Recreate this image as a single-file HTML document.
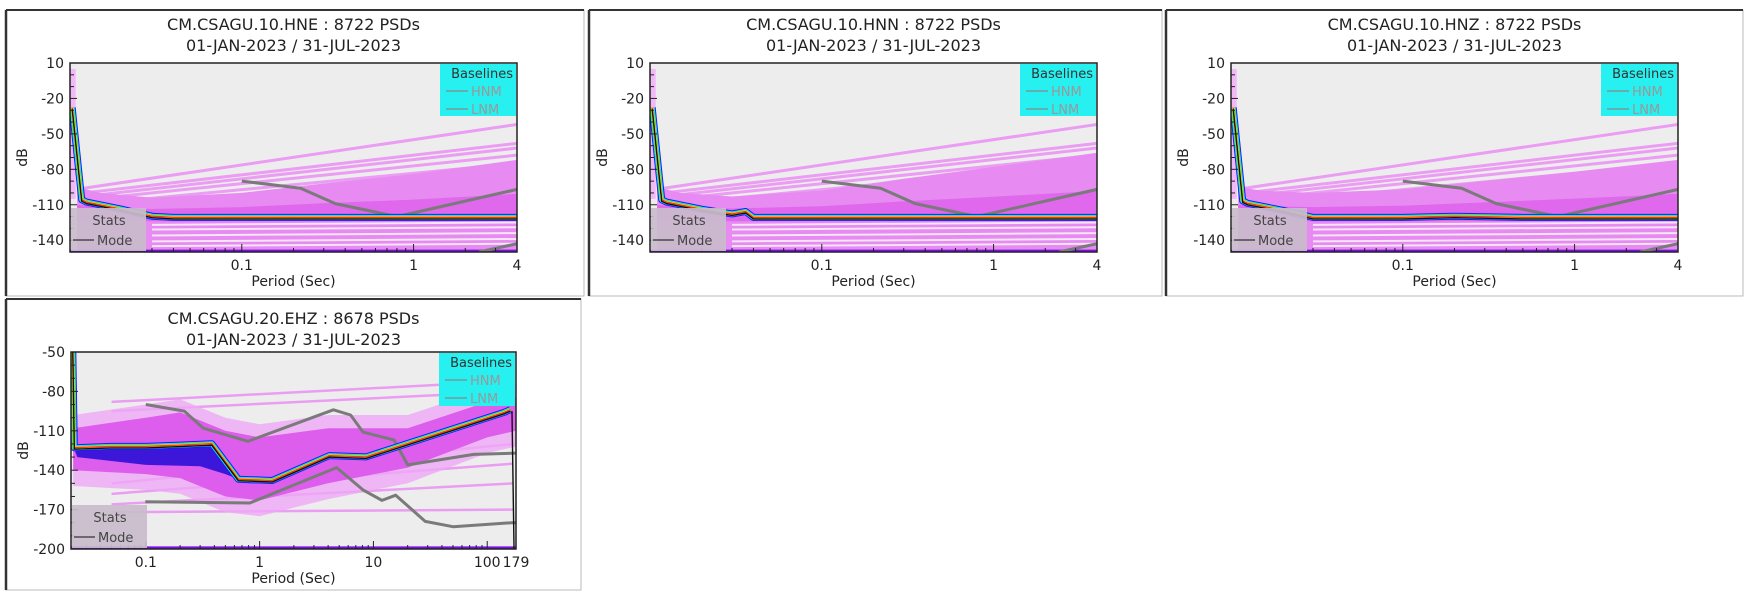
<!DOCTYPE html>
<html><head><meta charset="utf-8"><style>
html,body{margin:0;padding:0;background:#fff;width:1752px;height:602px;overflow:hidden}
svg{display:block;font-family:"DejaVu Sans","Liberation Sans",sans-serif}
</style></head><body>
<svg id="root" width="1752" height="602" viewBox="0 0 1752 602"></svg>
<script>
// ---------- data ----------
const topPeriodTicks=[0.1,1,4];
const topPeriodTickLabels=["0.1","1","4"];
const topDbTicks=[10,-20,-50,-80,-110,-140];
const ehzPeriodTicks=[0.1,1,10,100,179];
const ehzPeriodTickLabels=["0.1","1","10","100","179"];
const ehzDbTicks=[-50,-80,-110,-140,-170,-200];

const hneModePeriods=[0.0103,0.0117,0.0125,0.02,0.03,0.04,0.1,1,4];
const hneModeDb=[-29,-107,-109,-115,-121,-122,-122,-122,-122];
const hnnModePeriods=[0.0103,0.0117,0.0125,0.02,0.03,0.036,0.04,0.1,1,4];
const hnnModeDb=[-29,-107,-109,-115,-119,-117,-122,-122,-122,-122];
const hnzModePeriods=[0.0103,0.0117,0.0125,0.02,0.03,0.1,0.2,0.5,1,4];
const hnzModeDb=[-29,-108,-110,-116,-122,-122,-121,-122,-122,-122];

const topHnmPeriods=[0.1,0.22,0.35,0.8,4];
const topHnmDb=[-90,-96,-109,-120,-97];
const topLnmPeriods=[2.4,4];
const topLnmDb=[-150,-143];

const cloudPeriods=[0.011,0.015,0.03,0.1,0.3,1,4];
const hneCloudTop=[-95,-100,-104,-100,-92,-84,-72];
const hnnCloudTop=[-95,-100,-103,-98,-88,-78,-66];
const hnzCloudTop=[-95,-98,-100,-97,-90,-82,-72];
const streakStartDb=[-96,-100,-103,-106,-110];
const streakEndDb=[-42,-58,-62,-68,-75];
const whiteStreakDb=[-127,-131,-136,-141,-145];

const ehzModePeriods=[0.0228,0.0235,0.05,0.1,0.2,0.38,0.65,1.29,4.1,8.6,142,160];
const ehzModeDb=[-50,-124,-123,-123,-122,-121,-148,-149,-130,-131,-97,-95];
const ehzHnmPeriods=[0.1,0.218,0.32,0.79,4.45,6.3,8.1,15.2,20,76,179];
const ehzHnmDb=[-90,-95,-108,-118,-94,-98,-111,-117,-136,-128,-127];
const ehzLnmPeriods=[0.099,0.82,4.75,8.1,11.9,15.7,28.5,50,165,179];
const ehzLnmDb=[-164,-165,-138,-155,-163,-159,-179,-183,-180,-180];
const ehzCloudPeriods=[0.023,0.1,0.2,0.5,1,4,20,100,179];
const ehzCloudTop=[-108,-100,-96,-110,-115,-108,-108,-88,-84];
const ehzCloudBottom=[-140,-143,-146,-160,-163,-150,-138,-115,-110];
const ehzStreakStart=[-88,-95,-150,-158,-166,-172];
const ehzStreakEnd=[-72,-80,-120,-135,-150,-170];
const ehzBluePeriods=[0.025,0.1,0.3,0.5,0.8,1.2];
const ehzBlueBottom=[-130,-136,-137,-143,-150,-150];

// ---------- drawing ----------
const NS="http://www.w3.org/2000/svg";
const root=document.getElementById("root");
function el(tag,attrs,parent){const e=document.createElementNS(NS,tag);for(const k in attrs)e.setAttribute(k,attrs[k]);(parent||root).appendChild(e);return e;}

function makeScales(p){
  const lx0=Math.log10(p.pmin),lx1=Math.log10(p.pmax);
  p.X=v=>p.x0+(Math.log10(v)-lx0)/(lx1-lx0)*(p.x1-p.x0);
  p.Y=v=>p.y0+(p.dbmax-v)/(p.dbmax-p.dbmin)*(p.y1-p.y0);
}
function pts(p,per,db){return per.map((v,i)=>p.X(v).toFixed(1)+","+p.Y(db[i]).toFixed(1)).join(" ");}

function frame(p){
  const f=el("rect",{x:p.fx0,y:p.fy0,width:p.fx1-p.fx0,height:p.fy1-p.fy0,fill:"#fff",stroke:"#bbb","stroke-width":1});
  
  
  el("line",{x1:p.fx0,y1:p.fy0,x2:p.fx1,y2:p.fy0,stroke:"#333","stroke-width":2});
  el("line",{x1:p.fx0,y1:p.fy0,x2:p.fx0,y2:p.fy1,stroke:"#333","stroke-width":2.5});
  const cx=(p.x0+p.x1)/2;
  const t1=el("text",{x:cx,y:p.ty,"text-anchor":"middle","font-size":16,fill:"#222"});
  t1.textContent=p.title;
  
  
  const t2=el("text",{x:cx,y:p.ty+21,"text-anchor":"middle","font-size":16,fill:"#222"});
  t2.textContent="01-JAN-2023 / 31-JUL-2023";
  
  
  const xl=el("text",{x:cx,y:p.y1+34,"text-anchor":"middle","font-size":14,fill:"#222"});
  xl.textContent="Period (Sec)";
  
  
  const yx=p.x0-43,yy=(p.y0+p.y1)/2;
  const yl=el("text",{x:yx,y:yy,"text-anchor":"middle","font-size":14,fill:"#222",transform:`rotate(-90 ${yx} ${yy})`});
  yl.textContent="dB";
  
  
}

function plot(p){
  const g=el("g",{});
  
  
  const cid="clip-"+p.id;
  const cp=el("clipPath",{id:cid},g);
  el("rect",{x:p.x0,y:p.y0,width:p.x1-p.x0,height:p.y1-p.y0},cp);
  const inner=el("g",{"clip-path":`url(#${cid})`},g);
  el("rect",{x:p.x0,y:p.y0,width:p.x1-p.x0,height:p.y1-p.y0,fill:"#ededed"},inner);
  p.draw(inner);
  el("rect",{x:p.x0,y:p.y0,width:p.x1-p.x0,height:p.y1-p.y0,fill:"none",stroke:"#222","stroke-width":1.5},g);
  for(let d=p.dbmin;d<=p.dbmax;d+=10){
    const y=p.Y(d);const major=p.yTicks.includes(d);
    el("line",{x1:p.x0,y1:y,x2:p.x0+(major?7:4),y2:y,stroke:"#222","stroke-width":1},g);
  }
  p.yTicks.forEach(d=>{
    const t=el("text",{x:p.x0-6,y:p.Y(d)+5,"text-anchor":"end","font-size":14,fill:"#222"},g);
    t.textContent=String(d);
    
    
  });
  const dmin=Math.floor(Math.log10(p.pmin)),dmax=Math.ceil(Math.log10(p.pmax));
  for(let e=dmin;e<=dmax;e++)for(let m=1;m<10;m++){
    const v=m*Math.pow(10,e);if(v<p.pmin||v>p.pmax)continue;
    const x=p.X(v);
    el("line",{x1:x,y1:p.y1,x2:x,y2:p.y1-(m===1?8:4),stroke:"#222","stroke-width":1},g);
  }
  p.xTicks.forEach((v,i)=>{
    const t=el("text",{x:p.X(v),y:p.y1+18,"text-anchor":"middle","font-size":14,fill:"#222"},g);
    t.textContent=p.xLabels[i];
    
    
  });
  const lg=el("g",{},g);
  
  
  const lw=77,lh=p.legH;
  el("rect",{x:p.x1-lw,y:p.y0+1,width:lw-1,height:lh,fill:"#26f0f0"},lg);
  const lt=el("text",{x:p.x1-4,y:p.y0+15,"text-anchor":"end","font-size":13,fill:"#333"},lg);lt.textContent="Baselines";
  [["HNM",32],["LNM",50]].forEach(([n,dy])=>{
    el("line",{x1:p.x1-lw+6,y1:p.y0+dy-4,x2:p.x1-lw+28,y2:p.y0+dy-4,stroke:"#888","stroke-width":1.2},lg);
    const tt=el("text",{x:p.x1-lw+31,y:p.y0+dy+1,"font-size":13,fill:"#999"},lg);tt.textContent=n;
  });
  const sg=el("g",{},g);
  
  
  el("rect",{x:p.x0+1,y:p.y1-44,width:75,height:43,fill:"#c9bccc",opacity:0.92},sg);
  const st=el("text",{x:p.x0+39,y:p.y1-27,"text-anchor":"middle","font-size":13,fill:"#444"},sg);st.textContent="Stats";
  el("line",{x1:p.x0+3,y1:p.y1-12,x2:p.x0+24,y2:p.y1-12,stroke:"#333","stroke-width":1.3},sg);
  const mt=el("text",{x:p.x0+27,y:p.y1-7,"font-size":13,fill:"#444"},sg);mt.textContent="Mode";
}

function modeLines(p,g,per,db,name){
  const s=pts(p,per,db);
  [["#1a1aff",7],["#22e8f0",5],["#30e030",3.5],["#ffe000",2.5],["#ff3030",1.3]].forEach(([c,w])=>{
    const l=el("polyline",{points:s,fill:"none",stroke:c,"stroke-width":w,"stroke-linejoin":"round",transform:"translate(0,-1.5)"},g);
    
    
  });
  const m=el("polyline",{points:s,fill:"none",stroke:"#111","stroke-width":1.4},g);
  
  
}
function baseline(p,g,per,db,name){
  const l=el("polyline",{points:pts(p,per,db),fill:"none",stroke:"#7a7a7a","stroke-width":3,"stroke-linejoin":"round"},g);
  
  
}

function topDraw(id,cloudTop,modeP,modeD){
  return function(g){
    const p=this;
    el("rect",{x:p.X(0.01),y:p.Y(5),width:p.X(0.0108)-p.X(0.01),height:p.Y(-105)-p.Y(5),fill:"#f3b8f8"},g);
    streakStartDb.forEach((s,i)=>{
      const l=el("line",{x1:p.X(0.012),y1:p.Y(s),x2:p.X(4),y2:p.Y(streakEndDb[i]),stroke:"#ea8af4","stroke-width":3,opacity:0.8},g);
      
      
    });
    const poly=pts(p,cloudPeriods,cloudTop)+` ${p.X(4)},${p.Y(-150)} ${p.X(0.011)},${p.Y(-150)}`;
    const c=el("polygon",{points:poly,fill:"#e78af2"},g);
    
    
    const dense=pts(p,cloudPeriods,cloudTop.map(v=>v*0.4+(-120)*0.6))+` ${p.X(4)},${p.Y(-124)} ${p.X(0.011)},${p.Y(-124)}`;
    el("polygon",{points:dense,fill:"#dc5ceb",opacity:0.75},g);
    whiteStreakDb.forEach(d=>{
      el("line",{x1:p.X(0.03),y1:p.Y(d),x2:p.X(4),y2:p.Y(d+2),stroke:"#f6f0f6","stroke-width":2,opacity:0.9},g);
    });
    el("rect",{x:p.x0,y:p.Y(-148),width:p.x1-p.x0,height:p.Y(-150)-p.Y(-148)+2,fill:"#7a10e8"},g);
    baseline(p,g,topHnmPeriods,topHnmDb,id+'-hnm-line');
    baseline(p,g,topLnmPeriods,topLnmDb,id+'-lnm-line');
    modeLines(p,g,modeP,modeD,id);
  };
}

const panels=[
 {id:"hne",title:"CM.CSAGU.10.HNE : 8722 PSDs",x0:70,x1:517,y0:63,y1:252,fx0:6,fx1:584,fy0:10,fy1:296,ty:30,pmin:0.01,pmax:4,dbmin:-150,dbmax:10,xTicks:topPeriodTicks,xLabels:topPeriodTickLabels,yTicks:topDbTicks,legH:52,draw:topDraw("hne",hneCloudTop,hneModePeriods,hneModeDb)},
 {id:"hnn",title:"CM.CSAGU.10.HNN : 8722 PSDs",x0:650,x1:1097,y0:63,y1:252,fx0:589,fx1:1162,fy0:10,fy1:296,ty:30,pmin:0.01,pmax:4,dbmin:-150,dbmax:10,xTicks:topPeriodTicks,xLabels:topPeriodTickLabels,yTicks:topDbTicks,legH:52,draw:topDraw("hnn",hnnCloudTop,hnnModePeriods,hnnModeDb)},
 {id:"hnz",title:"CM.CSAGU.10.HNZ : 8722 PSDs",x0:1231,x1:1678,y0:63,y1:252,fx0:1166,fx1:1743,fy0:10,fy1:296,ty:30,pmin:0.01,pmax:4,dbmin:-150,dbmax:10,xTicks:topPeriodTicks,xLabels:topPeriodTickLabels,yTicks:topDbTicks,legH:52,draw:topDraw("hnz",hnzCloudTop,hnzModePeriods,hnzModeDb)},
 {id:"ehz",title:"CM.CSAGU.20.EHZ : 8678 PSDs",x0:71,x1:516,y0:352,y1:549,fx0:6,fx1:581,fy0:299,fy1:590,ty:324,pmin:0.022,pmax:179,dbmin:-200,dbmax:-50,xTicks:ehzPeriodTicks,xLabels:ehzPeriodTickLabels,yTicks:ehzDbTicks,legH:53,
  draw:function(g){
    const p=this;
    el("rect",{x:p.X(0.022),y:p.Y(-50),width:p.X(0.0232)-p.X(0.022),height:p.Y(-125)-p.Y(-50),fill:"#f3b8f8"},g);
    ehzStreakStart.forEach((s,i)=>{
      el("line",{x1:p.X(0.05),y1:p.Y(s),x2:p.X(170),y2:p.Y(ehzStreakEnd[i]),stroke:"#ea8af4","stroke-width":2.5,opacity:0.8},g);
    });
    const wide=pts(p,ehzCloudPeriods,ehzCloudTop.map(v=>v+10))+" "+pts(p,ehzCloudPeriods.slice().reverse(),ehzCloudBottom.map(v=>v-12).reverse());
    el("polygon",{points:wide,fill:"#efa8f6",opacity:0.8},g);
    const poly=pts(p,ehzCloudPeriods,ehzCloudTop)+" "+pts(p,ehzCloudPeriods.slice().reverse(),ehzCloudBottom.slice().reverse());
    const c=el("polygon",{points:poly,fill:"#dd5eec"},g);
    
    
    const blue=pts(p,ehzModePeriods.slice(1,7),ehzModeDb.slice(1,7))+" "+pts(p,ehzBluePeriods.slice().reverse(),ehzBlueBottom.slice().reverse());
    const b=el("polygon",{points:blue,fill:"#2a10d8",opacity:0.9},g);
    
    
    el("rect",{x:p.x0,y:p.Y(-198),width:p.x1-p.x0,height:6,fill:"#7a10e8"},g);
    baseline(p,g,ehzHnmPeriods,ehzHnmDb,'ehz-hnm-line');
    baseline(p,g,ehzLnmPeriods,ehzLnmDb,'ehz-lnm-line');
    modeLines(p,g,ehzModePeriods,ehzModeDb,'ehz');
    el("line",{x1:p.X(165),y1:p.Y(-95),x2:p.X(172),y2:p.Y(-200),stroke:"#111","stroke-width":1.4},g);
  }}
];
panels.forEach(p=>{makeScales(p);frame(p);});
panels.forEach(p=>plot(p));
</script>
</body></html>
